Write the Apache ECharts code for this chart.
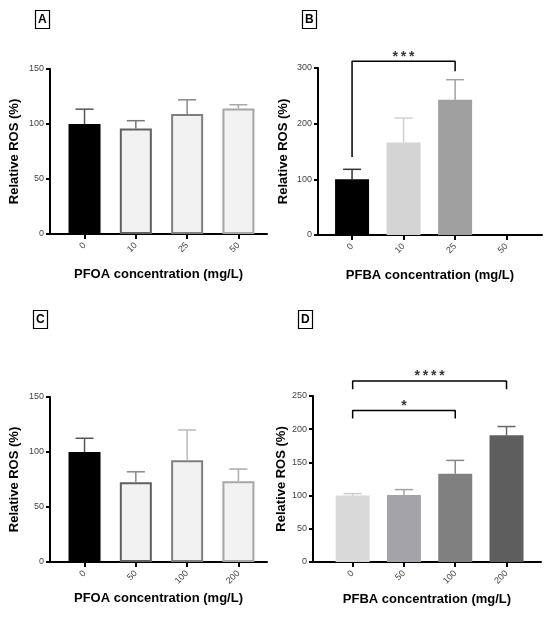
<!DOCTYPE html>
<html><head><meta charset="utf-8">
<script src="https://cdn.jsdelivr.net/npm/echarts@6/dist/echarts.min.js"></script>
<style>html,body{margin:0;padding:0;background:#fff}#c{width:550px;height:618px}</style>
</head><body><div id="c"></div>
<script>
// ---- data ----
const catA = ['0', '10', '25', '50'];
const catB = ['0', '10', '25', '50'];
const catC = ['0', '50', '100', '200'];
const catD = ['0', '50', '100', '200'];
const rosA = [100, 96, 109, 114];
const sdA = [13.5, 7, 13, 3.5];
const rosB = [100, 166, 243, null];
const sdB = [18, 44, 36, null];
const rosC = [100, 72.5, 92.5, 73.5];
const sdC = [12.5, 9.5, 27.5, 11];
const rosD = [100, 101, 133, 191];
const sdD = [3, 8, 20, 13];
const yTicksA = [0, 150, 50];
const yTicksB = [0, 300, 100];
const yTicksC = [0, 150, 50];
const yTicksD = [0, 250, 50];
// significance brackets: [x, y] path points, and star labels
const bracketB = [[[0, 140], [0, 312], [2, 312], [2, 294]]];
const starsB = [[1, 319, '***']];
const bracketD = [[[0, 260], [0, 272.5], [3, 272.5], [3, 260]], [[0, 216], [0, 228], [2, 228], [2, 216]]];
const starsD = [[1.5, 280, '****'], [1, 235, '*']];

// ---- styles ----
const panels = [
  { letter: 'A', cats: catA, vals: rosA, sd: sdA, yt: yTicksA, xname: 'PFOA concentration (mg/L)',
    grid: { left: 50, top: 69, width: 217, height: 165 }, xr: [-0.673, 3.557], yGap: 29, xGap: 34,
    fill: ['#000000', '#f2f2f2', '#f2f2f2', '#f2f2f2'], border: ['#000000', '#606060', '#7f7f7f', '#a6a6a6'],
    err: ['#555555', '#777777', '#888888', '#aaaaaa'], outlined: true,
    box: { left: 35, top: 10 }, brackets: [], stars: [] },
  { letter: 'B', cats: catB, vals: rosB, sd: sdB, yt: yTicksB, xname: 'PFBA concentration (mg/L)',
    grid: { left: 318, top: 68, width: 224, height: 167 }, xr: [-0.661, 3.686], yGap: 28, xGap: 34,
    fill: ['#000000', '#d4d4d4', '#a0a0a0', '#a0a0a0'], border: null,
    err: ['#333333', '#d0d0d0', '#a0a0a0', '#a0a0a0'], outlined: false,
    box: { left: 302, top: 10 }, brackets: bracketB, stars: starsB },
  { letter: 'C', cats: catC, vals: rosC, sd: sdC, yt: yTicksC, xname: 'PFOA concentration (mg/L)',
    grid: { left: 50, top: 397, width: 217, height: 165 }, xr: [-0.673, 3.557], yGap: 29, xGap: 30,
    fill: ['#000000', '#f2f2f2', '#f2f2f2', '#f2f2f2'], border: ['#000000', '#606060', '#7f7f7f', '#a6a6a6'],
    err: ['#555555', '#888888', '#bbbbbb', '#aaaaaa'], outlined: true,
    box: { left: 33, top: 310 }, brackets: [], stars: [] },
  { letter: 'D', cats: catD, vals: rosD, sd: sdD, yt: yTicksD, xname: 'PFBA concentration (mg/L)',
    grid: { left: 313, top: 396, width: 228, height: 166 }, xr: [-0.773, 3.672], yGap: 24, xGap: 31,
    fill: ['#d9d9d9', '#a3a3a8', '#808080', '#5e5e5e'], border: null,
    err: ['#cccccc', '#a3a3a8', '#888888', '#666666'], outlined: false,
    box: { left: 298, top: 310 }, brackets: bracketD, stars: starsD }
];

const FONT = 'Arial, "Liberation Sans", Helvetica, sans-serif';
const option = { animation: false, backgroundColor: '#fff', title: [], grid: [], xAxis: [], yAxis: [], series: [] };

panels.forEach((p, i) => {
  option.title.push({ text: p.letter, left: p.box.left, top: p.box.top, borderColor: '#000', borderWidth: 1.2,
    padding: [3, 3, 3, 3], textStyle: { fontFamily: FONT, fontWeight: 'bold', fontSize: 12, lineHeight: 13, color: '#000' } });
  option.grid.push(Object.assign({ containLabel: false }, p.grid));
  option.xAxis.push({ type: 'value', gridIndex: i, min: p.xr[0], max: p.xr[1],
    name: p.xname, nameLocation: 'middle', nameGap: p.xGap,
    nameTextStyle: { fontFamily: FONT, fontWeight: 'bold', fontSize: 13, color: '#000' },
    splitLine: { show: false },
    axisLine: { show: true, onZero: false, lineStyle: { color: '#000', width: 2 } },
    axisTick: { show: true, customValues: [0, 1, 2, 3], length: 5, lineStyle: { color: '#000', width: 2 } },
    axisLabel: { show: true, customValues: [0, 1, 2, 3], rotate: 45, fontSize: 9, fontFamily: FONT, color: '#444', margin: 10,
      formatter: v => p.cats[Math.round(v)] } });
  option.yAxis.push({ type: 'value', gridIndex: i, min: p.yt[0], max: p.yt[1], interval: p.yt[2],
    name: 'Relative ROS (%)', nameLocation: 'middle', nameGap: p.yGap, nameRotate: 90,
    nameTextStyle: { fontFamily: FONT, fontWeight: 'bold', fontSize: 13, color: '#000' },
    splitLine: { show: false },
    axisLine: { show: true, onZero: false, lineStyle: { color: '#000', width: 2 } },
    axisTick: { show: true, length: 4, lineStyle: { color: '#000', width: 2 } },
    axisLabel: { fontSize: 9, fontFamily: FONT, color: '#444', margin: 6 } });

  const barData = p.vals.map((v, k) => v == null ? null : {
    value: [k, v],
    itemStyle: p.outlined
      ? { color: p.fill[k], borderColor: p.border[k], borderWidth: 2 }
      : { color: p.fill[k] }
  });
  option.series.push({ type: 'bar', xAxisIndex: i, yAxisIndex: i, data: barData, barWidth: p.outlined ? 32 : 34, z: 2 });

  const errData = p.vals.map((v, k) => v == null ? null : [k, v, v + p.sd[k]]).filter(d => d);
  option.series.push({ type: 'custom', xAxisIndex: i, yAxisIndex: i, data: errData, z: 3,
    renderItem: (params, api) => {
      const x = api.value(0);
      const a = api.coord([x, api.value(1)]);
      const b = api.coord([x, api.value(2)]);
      const col = p.err[x];
      const st = { stroke: col, lineWidth: 1.5 };
      return { type: 'group', children: [
        { type: 'line', shape: { x1: a[0], y1: a[1], x2: b[0], y2: b[1] }, style: st },
        { type: 'line', shape: { x1: b[0] - 9, y1: b[1], x2: b[0] + 9, y2: b[1] }, style: st }
      ] };
    } });

  p.brackets.forEach(br => {
    option.series.push({ type: 'line', xAxisIndex: i, yAxisIndex: i, data: br, symbol: 'none', clip: false,
      lineStyle: { color: '#000', width: 1.5 }, silent: true, z: 4 });
  });
  if (p.stars.length) {
    option.series.push({ type: 'scatter', xAxisIndex: i, yAxisIndex: i, data: p.stars, symbolSize: 0, clip: false, z: 5,
      label: { show: true, position: 'inside', formatter: d => d.value[2].split('').join('\u2009'),
        fontFamily: FONT, fontWeight: 'bold', fontSize: 14, color: '#000' } });
  }
});

const chart = echarts.init(document.getElementById('c'), null, { renderer: 'canvas' });
chart.setOption(option);
</script></body></html>
